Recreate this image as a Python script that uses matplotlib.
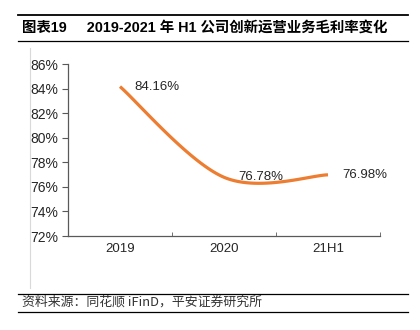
import numpy as np
import matplotlib
matplotlib.use("Agg")
import matplotlib.pyplot as plt
from matplotlib.lines import Line2D

plt.rcParams['font.family'] = ['Liberation Sans', 'Noto Sans CJK SC', 'DejaVu Sans']

categories = ["2019", "2020", "21H1"]
values = [84.16, 76.78, 76.98]
labels = ["84.16%", "76.78%", "76.98%"]
yticks = [72, 74, 76, 78, 80, 82, 84, 86]
title = "图表19     2019-2021 年 H1 公司创新运营业务毛利率变化"
source = "资料来源：同花顺 iFinD，平安证券研究所"

W, H = 420, 330
fig = plt.figure(figsize=(W / 100, H / 100), dpi=100)

def fx(px):
    return px / W

def fy(py):
    return 1 - py / H

ax = fig.add_axes([fx(68), fy(236), fx(380) - fx(68), fy(64) - fy(236)])

# smoothed line (cardinal / Excel-like bezier)
xs = np.arange(1, len(values) + 1, dtype=float)
ys = np.array(values, dtype=float)
P = np.column_stack([xs, ys])
n = len(P)
curve = []
t = np.linspace(0, 1, 60)[:, None]
for i in range(n - 1):
    p0 = P[i]
    p3 = P[i + 1]
    prev = P[i - 1] if i > 0 else P[i]
    nxt = P[i + 2] if i + 2 < n else P[i + 1]
    c1 = p0 + (p3 - prev) / 6.0
    c2 = p3 - (nxt - p0) / 6.0
    seg = ((1 - t) ** 3) * p0 + 3 * ((1 - t) ** 2) * t * c1 + 3 * (1 - t) * t ** 2 * c2 + t ** 3 * p3
    curve.append(seg)
curve = np.vstack(curve)
ax.plot(curve[:, 0], curve[:, 1], color="#ED7D31", lw=2.3, solid_capstyle="butt")

for x, y, lab in zip(xs, ys, labels):
    ax.annotate(lab, (x, y), xytext=(10, 0), textcoords="offset points",
                ha="left", va="center", fontsize=9.5, color="#262626")

ax.set_xlim(0.5, len(values) + 0.5)
ax.set_ylim(yticks[0], yticks[-1])
ax.set_yticks(yticks)
ax.set_yticklabels([f"{v}%" for v in yticks])
ax.set_xticks(xs)
ax.set_xticklabels(categories)
ax.set_xticks(np.arange(1.5, len(values) + 1, 1.0), minor=True)
ax.tick_params(axis='x', which='major', length=0, pad=5, labelsize=9.5, labelcolor="#262626")
ax.tick_params(axis='x', which='minor', direction='in', length=3, color="#595959")
ax.tick_params(axis='y', which='major', direction='out', length=4, color="#595959",
               labelsize=10, labelcolor="#262626", pad=3)
for s in ["top", "right"]:
    ax.spines[s].set_visible(False)
for s in ["left", "bottom"]:
    ax.spines[s].set_color("#595959")
    ax.spines[s].set_linewidth(0.9)
ax.patch.set_alpha(0)

# decorations
fig.add_artist(Line2D([fx(18), fx(408)], [fy(14.5), fy(14.5)], color="black", lw=1.3))
fig.add_artist(Line2D([fx(18), fx(408)], [fy(40.5), fy(40.5)], color="black", lw=0.9))
fig.text(fx(22), fy(28), title, fontsize=10.4, fontweight="bold", ha="left", va="center",
         family=['Liberation Sans', 'Noto Sans CJK SC'])
fig.add_artist(Line2D([fx(29.5), fx(29.5)], [fy(48), fy(288)], color="#d9d9d9", lw=0.8))
fig.add_artist(Line2D([fx(18), fx(408)], [fy(293.5), fy(293.5)], color="black", lw=0.9))
fig.add_artist(Line2D([fx(18), fx(408)], [fy(311.5), fy(311.5)], color="black", lw=0.9))
fig.text(fx(22), fy(302.5), source, fontsize=9.3, ha="left", va="center", style="italic",
         family=['Noto Sans CJK SC', 'Liberation Sans'], color="#333333")

fig.savefig("out.png", dpi=100)
